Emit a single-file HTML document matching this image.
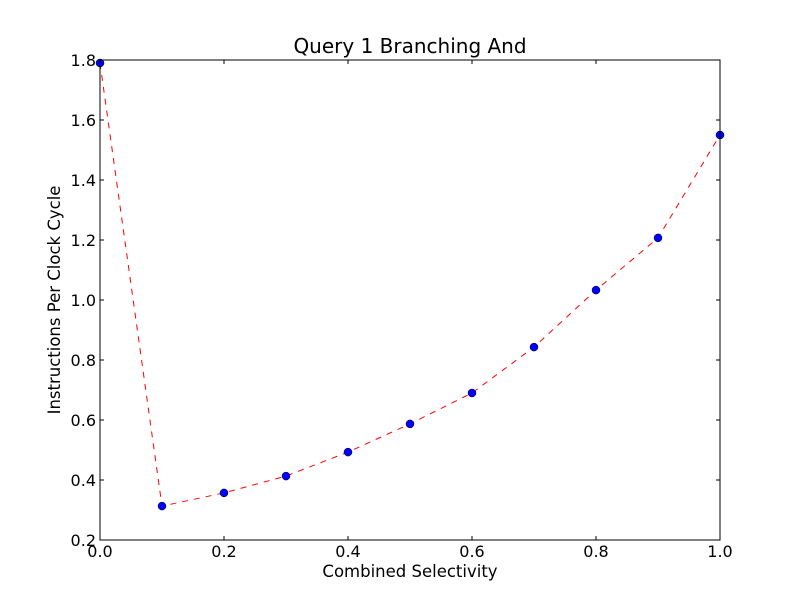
<!DOCTYPE html>
<html><head><meta charset="utf-8"><style>
body{margin:0;background:#fff;}
svg{display:block;font-family:"DejaVu Sans","Liberation Sans",sans-serif;}
</style></head><body>
<svg id="chart" width="800" height="600">
<rect width="800" height="600" fill="#fff"/>
</svg>
<script>
const xValues=[0,0.1,0.2,0.3,0.4,0.5,0.6,0.7,0.8,0.9,1.0];
const yValues=[1.79,0.313,0.357,0.413,0.493,0.587,0.69,0.843,1.033,1.207,1.55];
const xTicks=[0,0.2,0.4,0.6,0.8,1.0];
const xTickLabels=["0.0","0.2","0.4","0.6","0.8","1.0"];
const yTicks=[0.2,0.4,0.6,0.8,1.0,1.2,1.4,1.6,1.8];
const yTickLabels=["0.2","0.4","0.6","0.8","1.0","1.2","1.4","1.6","1.8"];
const L=100,R=720,T=60,B=540;
const xs=v=>L+(v-0)/(1-0)*(R-L);
const ys=v=>B-(v-0.2)/(1.8-0.2)*(B-T);
const svg=document.getElementById('chart');
const NS='http://www.w3.org/2000/svg';
function mk(tag,attrs,parent){const e=document.createElementNS(NS,tag);for(const k in attrs)e.setAttribute(k,attrs[k]);(parent||svg).appendChild(e);return e;}
const plot=mk('g',{});


const pts=xValues.map((x,i)=>xs(x)+','+ys(yValues[i])).join(' ');
const line=mk('polyline',{points:pts,fill:'none',stroke:'#ff0000','stroke-width':1,'stroke-dasharray':'6,6'},plot);


xValues.forEach((x,i)=>{
  const c=mk('circle',{cx:xs(x),cy:ys(yValues[i]),r:4,fill:'#0000ff',stroke:'#000','stroke-width':0.5},plot);
  
  
});
const frame=mk('rect',{x:L,y:T,width:R-L,height:B-T,fill:'none',stroke:'#000','stroke-width':1});


xTicks.forEach((v,i)=>{
  const x=xs(v);
  mk('line',{x1:x,y1:B,x2:x,y2:B-4,stroke:'#000'});
  mk('line',{x1:x,y1:T,x2:x,y2:T+4,stroke:'#000'});
  const t=mk('text',{x:x,y:B+17,'text-anchor':'middle','font-size':16});
  t.textContent=xTickLabels[i];
  
  
});
yTicks.forEach((v,i)=>{
  const y=ys(v);
  mk('line',{x1:L,y1:y,x2:L+4,y2:y,stroke:'#000'});
  mk('line',{x1:R,y1:y,x2:R-4,y2:y,stroke:'#000'});
  const t=mk('text',{x:L-4,y:y+6,'text-anchor':'end','font-size':16});
  t.textContent=yTickLabels[i];
  
  
});
const title=mk('text',{x:410,y:53,'text-anchor':'middle','font-size':20});
title.textContent='Query 1 Branching And';


const xl=mk('text',{x:410,y:577,'text-anchor':'middle','font-size':16.5});
xl.textContent='Combined Selectivity';


const yl=mk('text',{x:60,y:300,'text-anchor':'middle','font-size':16.5,transform:'rotate(-90 60 300)'});
yl.textContent='Instructions Per Clock Cycle';


</script>
</body></html>
